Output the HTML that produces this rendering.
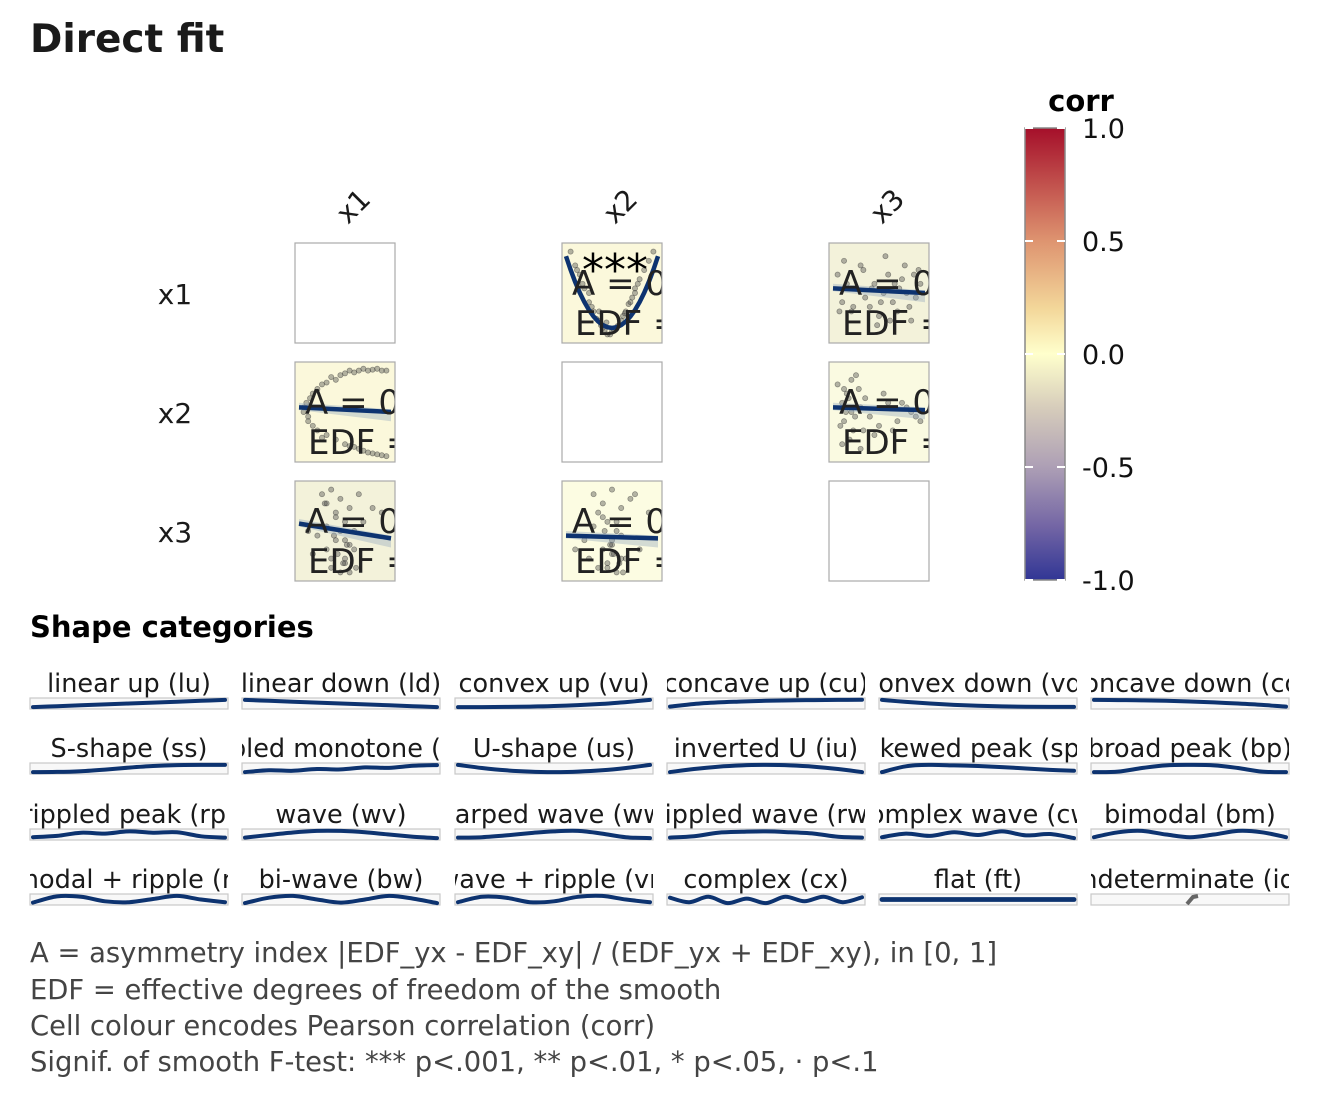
<!DOCTYPE html>
<html><head><meta charset="utf-8">
<style>
html,body{margin:0;padding:0;background:#fff;}
svg{display:block;font-family:"DejaVu Sans","Liberation Sans",sans-serif;}
</style></head>
<body>
<svg id="chart" width="1320" height="1100" viewBox="0 0 1320 1100" xmlns="http://www.w3.org/2000/svg">
<defs>
<linearGradient id="corrGrad" x1="0" y1="0" x2="0" y2="1">
<stop offset="0" stop-color="#a50f2a"/>
<stop offset="0.25" stop-color="#de9470"/>
<stop offset="0.4" stop-color="#f3d79a"/>
<stop offset="0.5" stop-color="#ffffcc"/>
<stop offset="0.62" stop-color="#d6ccbb"/>
<stop offset="0.75" stop-color="#ad9fb5"/>
<stop offset="0.88" stop-color="#7466a5"/>
<stop offset="1" stop-color="#313695"/>
</linearGradient>
</defs>
<text x="30" y="52" font-size="39" font-weight="bold" fill="#1a1a1a">Direct fit</text>
<g id="matrix"></g>
<g id="legend">
<text x="1081" y="111" font-size="29" font-weight="bold" text-anchor="middle" fill="#000">corr</text>
<rect x="1025" y="128" width="40" height="452" fill="url(#corrGrad)" stroke="#888" stroke-width="1.5"/>
</g>
<text x="30" y="637" font-size="29" font-weight="bold" fill="#000">Shape categories</text>
<g id="shapes"></g>
<g font-size="27.4" fill="#444">
<text x="30" y="962">A = asymmetry index |EDF_yx - EDF_xy| / (EDF_yx + EDF_xy), in [0, 1]</text>
<text x="30" y="999">EDF = effective degrees of freedom of the smooth</text>
<text x="30" y="1035">Cell colour encodes Pearson correlation (corr)</text>
<text x="30" y="1071">Signif. of smooth F-test: *** p&lt;.001, ** p&lt;.01, * p&lt;.05, · p&lt;.1</text>
</g>
</svg>
<script>
const NS = "http://www.w3.org/2000/svg";
// ---- data ----
const vars = ["x1","x2","x3"];
const legendTicks = [1.0, 0.5, 0.0, -0.5, -1.0];
const legendLabels = ["1.0","0.5","0.0","-0.5","-1.0"];
const cellRow = [0,0,1,1,2,2];
const cellCol = [1,2,0,2,0,1];
const cellCorr = [0.02,-0.06,0.02,-0.01,-0.06,0.0];
const cellSig = ["***","","","","",""];
const cellFitType = ["u","lin","lin","lin","lin","lin"];
const cellFitStart = [0.9,0.55,0.55,0.55,0.58,0.45];
const cellFitEnd = [0.9,0.5,0.5,0.52,0.42,0.42];
const cellPtsX = [
 [0.05,0.1,0.12,0.18,0.2,0.25,0.28,0.3,0.35,0.38,0.4,0.42,0.45,0.48,0.5,0.52,0.55,0.58,0.6,0.62,0.65,0.7,0.72,0.78,0.8,0.85,0.9,0.95,0.15,0.33,0.68,0.75,0.44,0.56,0.36,0.64,0.25,0.75],
 [0.05,0.1,0.15,0.2,0.25,0.3,0.35,0.4,0.45,0.5,0.55,0.6,0.65,0.7,0.75,0.8,0.85,0.9,0.95,0.12,0.33,0.48,0.62,0.78,0.88,0.22,0.57,0.72,0.07,0.42,0.52,0.67,0.83,0.93],
 [0.05,0.08,0.1,0.12,0.15,0.2,0.25,0.3,0.35,0.4,0.45,0.5,0.55,0.6,0.65,0.7,0.75,0.8,0.85,0.9,0.95,0.1,0.2,0.3,0.4,0.5,0.6,0.7,0.8,0.9,0.95,0.05,0.15,0.25,0.55,0.65,0.75,0.85],
 [0.05,0.1,0.12,0.15,0.2,0.22,0.25,0.3,0.35,0.4,0.5,0.6,0.7,0.8,0.9,0.18,0.28,0.45,0.55,0.65,0.75,0.85,0.95,0.1,0.2,0.3,0.14,0.17,0.24,0.08,0.33,0.12],
 [0.25,0.3,0.35,0.4,0.45,0.5,0.55,0.3,0.4,0.5,0.6,0.35,0.45,0.55,0.2,0.7,0.8,0.15,0.4,0.5,0.6,0.3,0.45,0.55,0.65,0.35,0.5,0.1,0.9,0.42,0.48,0.38,0.52,0.62,0.28],
 [0.3,0.35,0.4,0.45,0.5,0.55,0.6,0.4,0.5,0.6,0.45,0.55,0.3,0.7,0.2,0.8,0.4,0.5,0.6,0.45,0.55,0.35,0.65,0.5,0.1,0.9,0.25,0.75,0.52,0.58,0.48,0.62,0.42]
];
const cellPtsY = [
 [0.95,0.8,0.75,0.6,0.55,0.4,0.35,0.3,0.2,0.15,0.12,0.1,0.05,0.05,0.08,0.1,0.12,0.15,0.2,0.25,0.3,0.4,0.45,0.6,0.65,0.75,0.85,0.95,0.7,0.22,0.38,0.5,0.18,0.14,0.3,0.28,0.5,0.55],
 [0.7,0.4,0.6,0.3,0.55,0.8,0.45,0.35,0.6,0.25,0.5,0.7,0.4,0.3,0.65,0.5,0.2,0.45,0.6,0.85,0.75,0.15,0.2,0.8,0.7,0.35,0.9,0.55,0.3,0.55,0.4,0.6,0.35,0.75],
 [0.55,0.6,0.45,0.65,0.7,0.75,0.8,0.82,0.88,0.85,0.9,0.92,0.95,0.93,0.95,0.97,0.95,0.96,0.97,0.95,0.95,0.4,0.3,0.25,0.2,0.15,0.12,0.08,0.05,0.03,0.02,0.5,0.35,0.22,0.13,0.1,0.06,0.04],
 [0.8,0.6,0.4,0.7,0.5,0.3,0.9,0.55,0.65,0.45,0.35,0.6,0.4,0.55,0.45,0.2,0.75,0.25,0.7,0.3,0.6,0.5,0.4,0.15,0.85,0.1,0.5,0.65,0.45,0.35,0.3,0.75],
 [0.9,0.8,0.95,0.7,0.85,0.6,0.75,0.3,0.4,0.2,0.5,0.1,0.05,0.35,0.45,0.6,0.75,0.25,0.65,0.15,0.3,0.55,0.5,0.05,0.9,0.2,0.4,0.5,0.7,0.25,0.15,0.45,0.35,0.1,0.8],
 [0.9,0.7,0.8,0.6,0.95,0.5,0.75,0.3,0.4,0.2,0.1,0.05,0.55,0.85,0.4,0.3,0.65,0.25,0.45,0.15,0.6,0.1,0.2,0.35,0.3,0.7,0.2,0.9,0.25,0.15,0.35,0.05,0.5]
];
const shapeLabels = ["linear up (lu)","linear down (ld)","convex up (vu)","concave up (cu)","convex down (vd)","concave down (cd)",
"S-shape (ss)","rippled monotone (rm)","U-shape (us)","inverted U (iu)","skewed peak (sp)","broad peak (bp)",
"rippled peak (rp)","wave (wv)","warped wave (ww)","rippled wave (rw)","complex wave (cw)","bimodal (bm)",
"bimodal + ripple (mr)","bi-wave (bw)","wave + ripple (vr)","complex (cx)","flat (ft)","indeterminate (id)"];
const shapeValues = [
[0.1,0.2,0.3,0.4,0.5,0.6,0.7,0.8,0.9],
[0.9,0.8,0.7,0.6,0.5,0.4,0.3,0.2,0.1],
[0.1,0.1,0.12,0.16,0.22,0.32,0.46,0.66,0.9],
[0.15,0.45,0.62,0.72,0.8,0.85,0.88,0.9,0.92],
[0.9,0.68,0.5,0.35,0.25,0.18,0.14,0.12,0.12],
[0.9,0.88,0.85,0.8,0.72,0.62,0.5,0.35,0.15],
[0.1,0.12,0.2,0.38,0.6,0.78,0.88,0.9,0.9],
[0.1,0.3,0.25,0.45,0.4,0.62,0.57,0.8,0.88],
[0.9,0.55,0.3,0.15,0.1,0.15,0.3,0.55,0.9],
[0.1,0.45,0.7,0.85,0.9,0.85,0.7,0.45,0.1],
[0.1,0.75,0.9,0.85,0.78,0.65,0.5,0.35,0.25],
[0.1,0.15,0.55,0.85,0.9,0.85,0.55,0.15,0.1],
[0.2,0.35,0.7,0.6,0.85,0.7,0.75,0.3,0.15],
[0.15,0.45,0.72,0.9,0.9,0.75,0.5,0.25,0.1],
[0.15,0.2,0.4,0.65,0.85,0.9,0.6,0.2,0.1],
[0.15,0.3,0.7,0.8,0.85,0.75,0.6,0.25,0.15],
[0.2,0.6,0.35,0.75,0.45,0.85,0.4,0.55,0.1],
[0.2,0.75,0.9,0.5,0.2,0.5,0.9,0.75,0.2],
[0.15,0.85,0.8,0.3,0.2,0.55,0.9,0.5,0.2],
[0.1,0.7,0.9,0.5,0.15,0.5,0.9,0.6,0.1],
[0.2,0.8,0.7,0.2,0.3,0.8,0.9,0.5,0.2],
[0.7,0.2,0.8,0.1,0.6,0.1,0.8,0.3,0.8,0.2,0.75],
[0.5,0.5,0.5,0.5,0.5,0.5,0.5,0.5,0.5],
[]
];
// ---- layout ----
const svg = document.getElementById("chart");
function el(tag, attrs, parent){const e=document.createElementNS(NS,tag);for(const k in attrs)e.setAttribute(k,attrs[k]);(parent||svg).appendChild(e);return e;}
const cellX0 = [295,562,829], cellY0 = [243,362,481], cellSize = 100;
const mat = document.getElementById("matrix");
function corrColor(c){
  const stops=[[1,[165,15,42]],[0.5,[222,148,112]],[0.2,[243,215,154]],[0,[252,252,226]],[-0.24,[214,210,192]],[-0.5,[173,159,181]],[-0.76,[116,102,165]],[-1,[49,54,149]]];
  for(let i=0;i<stops.length-1;i++){const a=stops[i],b=stops[i+1];if(c<=a[0]&&c>=b[0]){const t=(a[0]-c)/(a[0]-b[0]);const m=a[1].map((v,j)=>Math.round(v+(b[1][j]-v)*t));return `rgb(${m[0]},${m[1]},${m[2]})`;}}
  return "#fff";
}
vars.forEach((v,i)=>{
  const rl=el("text",{x:175,y:cellY0[i]+61,"font-size":28,"text-anchor":"middle",fill:"#1a1a1a"},mat);
  rl.textContent=v;
  
  
  const cx=cellX0[i]+65, cy=213;
  const cl=el("text",{x:cx,y:cy,"font-size":28,"text-anchor":"middle",fill:"#1a1a1a",transform:`rotate(-45 ${cx} ${cy})`},mat);
  cl.textContent=v;
  
  
});
vars.forEach((v,i)=>{
  const r=el("rect",{x:cellX0[i],y:cellY0[i],width:cellSize,height:cellSize,fill:"#fff",stroke:"#aaa","stroke-width":1.2},mat);
  
  
});
cellRow.forEach((r,k)=>{
  const c=cellCol[k], x0=cellX0[c], y0=cellY0[r];
  const g=el("g",{},mat);
  
  
  const cid="clip"+k;
  const cp=el("clipPath",{id:cid},g); el("rect",{x:x0,y:y0,width:cellSize,height:cellSize},cp);
  const bg=el("rect",{x:x0,y:y0,width:cellSize,height:cellSize,fill:corrColor(cellCorr[k])},g);
  
  
  const inner=el("g",{"clip-path":`url(#${cid})`},g);
  const sx=v=>x0+4+v*92, sy=v=>y0+96-v*92;
  cellPtsX[k].forEach((px,i)=>{
    const p=el("circle",{cx:sx(px),cy:sy(cellPtsY[k][i]),r:2.6,fill:"rgba(70,70,70,0.4)",stroke:"rgba(40,40,40,0.45)","stroke-width":0.7},inner);
    
    
  });
  let d;
  if(cellFitType[k]==="u"){
    const pts=[];for(let i=0;i<=20;i++){const t=i/20;const yv=cellFitStart[k]-(cellFitStart[k]-0.12)*(1-Math.pow(2*t-1,2));pts.push(`${sx(t).toFixed(1)},${sy(yv).toFixed(1)}`);}
    d="M"+pts.join(" L");
  } else {
    const band=el("path",{d:`M${sx(0)},${sy(cellFitStart[k]+0.05)} L${sx(1)},${sy(cellFitEnd[k]+0.03)} L${sx(1)},${sy(cellFitEnd[k]-0.1)} L${sx(0)},${sy(cellFitStart[k]-0.03)}Z`,fill:"rgba(150,170,190,0.4)"},inner);
    
    
    d=`M${sx(0)},${sy(cellFitStart[k])} L${sx(1)},${sy(cellFitEnd[k])}`;
  }
  const fl=el("path",{d,fill:"none",stroke:"#0d3370","stroke-width":4.5},inner);
  
  
  if(cellSig[k]){const s=el("text",{x:x0+53,y:y0+42,"font-size":44,"text-anchor":"middle",fill:"#000"},inner);s.textContent=cellSig[k];
    
    }
  const a=el("text",{x:x0+10,y:y0+52,"font-size":34,fill:"#222"},inner);a.textContent="A = 0.00";
  
  
  const e=el("text",{x:x0+13,y:y0+92,"font-size":34,fill:"#222"},inner);e.textContent="EDF = 1.0";
  
  
  const br=el("rect",{x:x0,y:y0,width:cellSize,height:cellSize,fill:"none",stroke:"#aaa","stroke-width":1.2},g);
  
  
});
const leg=document.getElementById("legend");
const ly=v=>128+(1-v)/2*452;
legendTicks.forEach((t,i)=>{
  const y=ly(t);
  const l1=el("line",{x1:1025,x2:1033,y1:y,y2:y,stroke:"#fff","stroke-width":2},leg);
  
  
  const l2=el("line",{x1:1057,x2:1065,y1:y,y2:y,stroke:"#fff","stroke-width":2},leg);
  
  
  const tx=el("text",{x:1082,y:y+10,"font-size":27,fill:"#111"},leg);tx.textContent=legendLabels[i];
  
  
});
const sh=document.getElementById("shapes");
const colX=[30,242,455,667,879,1091], boxW=198, rowY=[698,763,829,894], boxH=11;
function smoothPath(pts){
  let d=`M${pts[0][0].toFixed(1)},${pts[0][1].toFixed(1)}`;
  for(let i=0;i<pts.length-1;i++){
    const p0=pts[i-1]||pts[i],p1=pts[i],p2=pts[i+1],p3=pts[i+2]||p2;
    const c1=[p1[0]+(p2[0]-p0[0])/6,p1[1]+(p2[1]-p0[1])/6],c2=[p2[0]-(p3[0]-p1[0])/6,p2[1]-(p3[1]-p1[1])/6];
    d+=` C${c1[0].toFixed(1)},${c1[1].toFixed(1)} ${c2[0].toFixed(1)},${c2[1].toFixed(1)} ${p2[0].toFixed(1)},${p2[1].toFixed(1)}`;
  }
  return d;
}
shapeLabels.forEach((lab,k)=>{
  const r=Math.floor(k/6),c=k%6,x0=colX[c],y0=rowY[r];
  const g=el("g",{},sh);
  
  
  const cid="sclip"+k;
  const cp=el("clipPath",{id:cid},g);el("rect",{x:x0,y:y0-40,width:boxW,height:60},cp);
  const t=el("text",{x:x0+boxW/2,y:y0-6,"font-size":25.5,"text-anchor":"middle",fill:"#1a1a1a","clip-path":`url(#${cid})`},g);t.textContent=lab;
  
  
  const b=el("rect",{x:x0,y:y0,width:boxW,height:boxH,fill:"#f8f8f8",stroke:"#c8c8c8","stroke-width":1.2},g);
  
  
  const vals=shapeValues[k];
  if(vals.length){
    const pts=vals.map((v,i)=>[x0+3+i/(vals.length-1)*(boxW-6),y0+boxH-1-v*(boxH-2)]);
    const p=el("path",{d:smoothPath(pts),fill:"none",stroke:"#0d3370","stroke-width":k===22?4.8:4,"stroke-linecap":"round"},g);
    
    
  } else {
    const p=el("path",{d:`M${x0+96},${y0+10} L${x0+102},${y0+3} L${x0+107},${y0+2}`,fill:"none",stroke:"#666","stroke-width":4},g);
    
    
  }
});
</script>
</body></html>
